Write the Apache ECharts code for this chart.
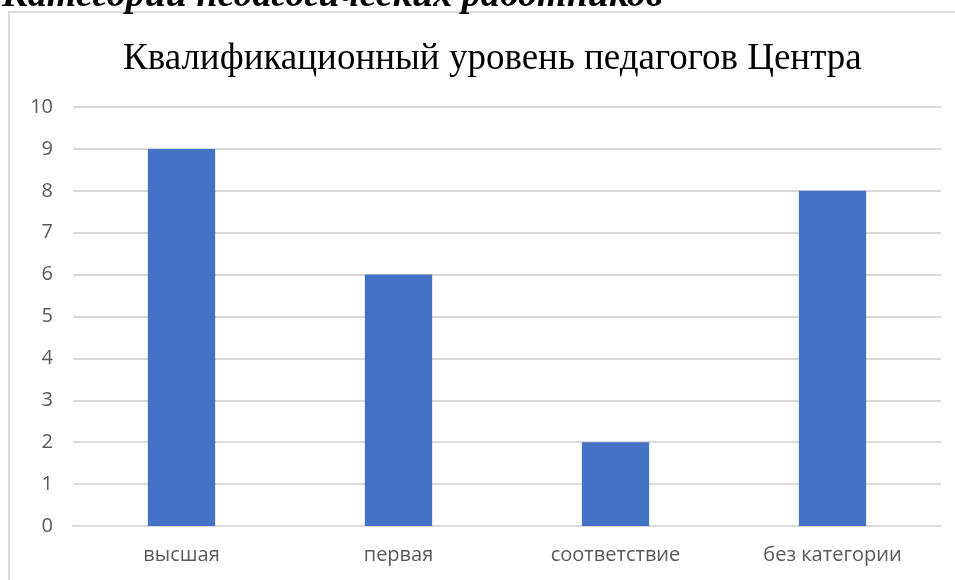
<!DOCTYPE html>
<html><head><meta charset="utf-8">
<script src="https://cdn.jsdelivr.net/npm/echarts@6/dist/echarts.min.js"></script>
<style>html,body{margin:0;padding:0;background:#fff;}#c{width:955px;height:580px;}</style>
</head><body><div id="c"></div>
<script>
const categories = ["высшая", "первая", "соответствие", "без категории"];
const values = [9, 6, 2, 8];
const yTicks = [0, 10, 1];
const chart = echarts.init(document.getElementById('c'));
chart.setOption({
  animation: false,
  graphic: [
    {type: 'rect', shape: {x: 9, y: 12, width: 960, height: 600}, style: {fill: 'none', stroke: '#d9d9d9', lineWidth: 2}, z: -1},
    {type: 'text', left: 2, top: -23, style: {text: 'Категории педагогических работников', font: 'italic bold 38px "Liberation Serif"', fill: '#000'}}
  ],
  title: {text: 'Квалификационный уровень педагогов Центра', left: 118, top: 36,
    textStyle: {fontFamily: 'Liberation Serif', fontWeight: 'normal', fontSize: 37, color: '#000'}},
  grid: {left: 73, right: 14, top: 107, bottom: 54},
  xAxis: {type: 'category', data: categories,
    axisLine: {lineStyle: {color: '#d9d9d9', width: 2}}, axisTick: {show: false},
    axisLabel: {color: '#595959', fontSize: 20, fontFamily: 'Open Sans', margin: 19}},
  yAxis: {type: 'value', min: yTicks[0], max: yTicks[1], interval: yTicks[2],
    axisLine: {show: false}, axisTick: {show: false},
    splitLine: {lineStyle: {color: '#d9d9d9', width: 2}},
    axisLabel: {color: '#595959', fontSize: 20, fontFamily: 'Open Sans', margin: 20}},
  series: [{type: 'bar', data: values, barWidth: '31%', itemStyle: {color: '#4472C4'}}]
});
</script></body></html>
